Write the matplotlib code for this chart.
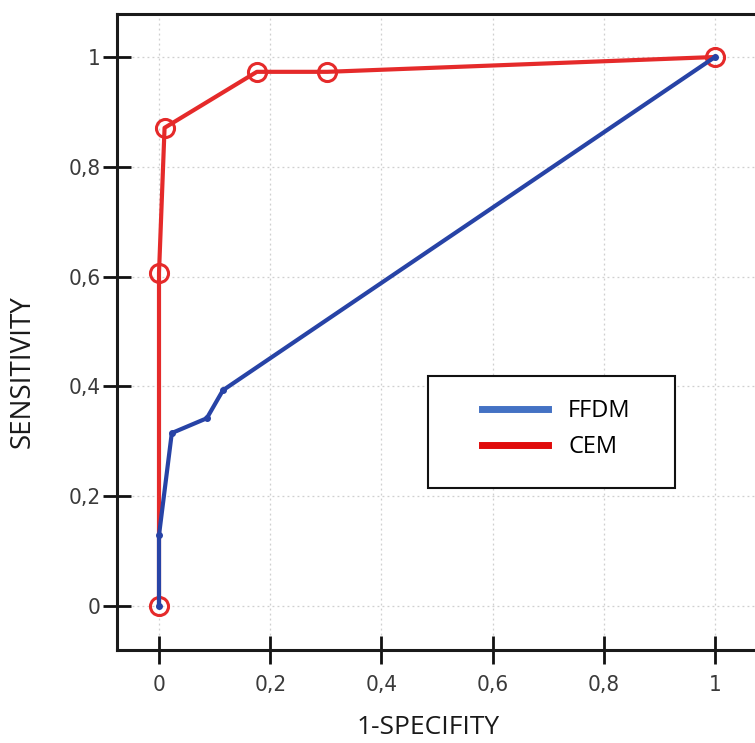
import matplotlib
matplotlib.use("Agg")
import matplotlib.pyplot as plt
from matplotlib.patches import Rectangle
from matplotlib.lines import Line2D
from matplotlib.ticker import FuncFormatter
from matplotlib import font_manager

# Data
cem_x = [0.0, 0.0, 0.01, 0.176, 0.303, 1.0]
cem_y = [0.0, 0.607, 0.871, 0.973, 0.973, 1.0]
ffdm_x = [0.0, 0.0, 0.023, 0.086, 0.115, 1.0]
ffdm_y = [0.0, 0.129, 0.315, 0.342, 0.393, 1.0]
ticks = [0, 0.2, 0.4, 0.6, 0.8, 1]
series_names = ["FFDM", "CEM"]

W, H = 755, 743
fig = plt.figure(figsize=(W / 100, H / 100), dpi=100)
ax = fig.add_axes([117 / W, 1 - 650 / H, 1 - 117 / W, (650 - 14) / H])

x0 = (117 - 159) / 556
x1 = (755 - 159) / 556
y0 = (606 - 650) / 549
y1 = (606 - 14) / 549
ax.set_xlim(x0, x1)
ax.set_ylim(y0, y1)

red = "#E52A2A"
blue = "#2743A6"

ax.plot(cem_x, cem_y, color=red, lw=3.0, zorder=3, solid_joinstyle="round")
ax.plot(cem_x, cem_y, ls="none", marker="o", ms=13, mfc="none", mec=red,
        mew=2.2, zorder=4)
ax.plot(ffdm_x, ffdm_y, color=blue, lw=3.0, zorder=5, marker="o", ms=4,
        mfc=blue, mec=blue, solid_joinstyle="round")

ax.set_xticks(ticks)
ax.set_yticks(ticks)
fmt = FuncFormatter(lambda v, p: ("%g" % v).replace(".", ","))
ax.xaxis.set_major_formatter(fmt)
ax.yaxis.set_major_formatter(fmt)

names = {f.name for f in font_manager.fontManager.ttflist}
if "Liberation Sans Narrow" in names:
    tick_prop = dict(family=["Liberation Sans Narrow"], size=17)
else:
    tick_prop = dict(family=["DejaVu Sans"], stretch="condensed", size=16)

for lab in ax.get_xticklabels() + ax.get_yticklabels():
    lab.set_family(tick_prop["family"])
    lab.set_fontsize(tick_prop["size"])
    if "stretch" in tick_prop:
        lab.set_stretch(tick_prop["stretch"])
    lab.set_color("#3a3a3a")

ax.tick_params(direction="inout", length=20, width=2.0, color="#111111",
               pad=2)
ax.tick_params(axis="x", pad=8)

ax.grid(True, color="#cfcfcf", ls=(0, (1.5, 2.5)), lw=0.9)
ax.set_axisbelow(True)

for s in ["left", "top", "bottom"]:
    ax.spines[s].set_linewidth(2.2)
    ax.spines[s].set_color("#1a1a1a")
ax.spines["right"].set_visible(False)

label_font = ["Open Sans", "DejaVu Sans"]
fig.text(428 / W, 1 - 728 / H, "1-SPECIFITY", family=label_font, fontsize=19,
         ha="center", va="center", color="#1a1a1a")
fig.text(23 / W, 1 - 372 / H, "SENSITIVITY", family=label_font, fontsize=20,
         ha="center", va="center", rotation=90, color="#1a1a1a")

# Legend box
fig.patches.append(Rectangle((428 / W, 1 - 488 / H), (675 - 428) / W,
                             (488 - 376) / H, transform=fig.transFigure,
                             facecolor="white", edgecolor="#111111", lw=1.5,
                             zorder=10))
handles = [Line2D([], [], color="#4472C4", lw=5),
           Line2D([], [], color="#E00B0B", lw=5)]
leg = fig.legend(handles, series_names, loc="center left",
                 bbox_to_anchor=(482 / W, 1 - 429 / H), frameon=False,
                 prop={"family": label_font, "size": 17},
                 handlelength=2.8, handletextpad=0.85, labelspacing=0.5,
                 borderpad=0, borderaxespad=0)
leg.set_zorder(11)

fig.savefig("out.png", dpi=100)
